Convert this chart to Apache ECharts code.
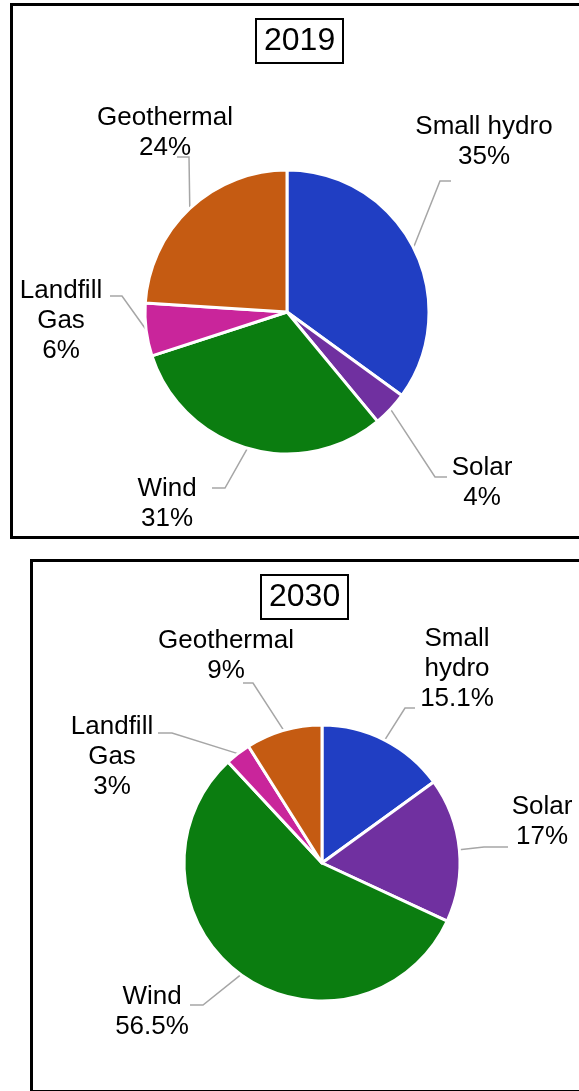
<!DOCTYPE html>
<html>
<head>
<meta charset="utf-8">
<title>Renewable mix 2019 vs 2030</title>
<script src="https://cdn.jsdelivr.net/npm/echarts@6/dist/echarts.min.js"></script>
<style>
    html, body { margin: 0; padding: 0; background: #fff; }
    #chart { width: 579px; height: 1091px; }
</style>
</head>
<body>
<div id="chart"></div>
<script>
// Data
const sources = ['Small hydro', 'Solar', 'Wind', 'Landfill Gas', 'Geothermal'];
const labels2019 = ['Small hydro', 'Solar', 'Wind', 'Landfill\nGas', 'Geothermal'];
const labels2030 = ['Small\nhydro', 'Solar', 'Wind', 'Landfill\nGas', 'Geothermal'];
const values2019 = [35, 4, 31, 6, 24];
const values2030 = [15.1, 17, 56.5, 3, 9];
const years = ['2019', '2030'];

const colors = ['#203EC3', '#7030A0', '#0B7D10', '#C9259B', '#C55B12'];
const FONT = '"Liberation Sans", Arial, sans-serif';

// label placement (text centre, leader elbow, leader end), Excel style
const layout2019 = [
    { at: [484, 142], elbow: [440, 181], end: [451, 181] },
    { at: [482, 483], elbow: [435, 477], end: [447, 477] },
    { at: [167, 504], elbow: [225, 488], end: [212, 488] },
    { at: [61, 321], elbow: [122, 296], end: [110, 296] },
    { at: [165, 133], elbow: [189, 157], end: [177, 157] }
];
const layout2030 = [
    { at: [457, 669], elbow: [405, 708], end: [415, 708] },
    { at: [542, 822], elbow: [484, 847], end: [508, 847] },
    { at: [152, 1012], elbow: [203, 1005], end: [190, 1005] },
    { at: [112, 757], elbow: [172, 733], end: [158, 733] },
    { at: [226, 656], elbow: [253, 683], end: [243, 683] }
];

function buildData(values, labels) {
    return values.map((v, i) => ({
        name: sources[i],
        value: v,
        label: { formatter: labels[i] + '\n' + v + '%' },
        itemStyle: { color: colors[i] }
    }));
}

function makeLayout(spec) {
    return function (params) {
        const s = spec[params.dataIndex];
        const pts = params.labelLinePoints;
        const start = pts ? pts[0] : s.elbow;
        return {
            x: s.at[0],
            y: s.at[1],
            align: 'center',
            verticalAlign: 'middle',
            labelLinePoints: [start, s.elbow, s.end]
        };
    };
}

function pieSeries(values, labels, center, radius, spec) {
    return {
        type: 'pie',
        center: center,
        radius: radius,
        startAngle: 90,
        clockwise: true,
        avoidLabelOverlap: false,
        silent: true,
        itemStyle: { borderColor: '#fff', borderWidth: 3 },
        label: {
            show: true,
            position: 'outside',
            color: '#000',
            fontFamily: FONT,
            fontSize: 26,
            lineHeight: 30,
            align: 'center'
        },
        labelLine: {
            show: true,
            length: 10,
            length2: 10,
            lineStyle: { color: '#A6A6A6', width: 1.5 }
        },
        labelLayout: makeLayout(spec),
        emphasis: { disabled: true },
        data: buildData(values, labels)
    };
}

function titleBox(text, left, top) {
    return {
        text: text,
        left: left,
        top: top,
        padding: [6, 8, 6, 8],
        borderColor: '#000',
        borderWidth: 2,
        textStyle: {
            color: '#000',
            fontFamily: FONT,
            fontSize: 32,
            fontWeight: 'normal'
        }
    };
}

const chart = echarts.init(document.getElementById('chart'));

chart.setOption({
    animation: false,
    backgroundColor: '#fff',
    title: [
        titleBox(years[0], 256, 19),
        titleBox(years[1], 261, 575)
    ],
    graphic: [
        {
            type: 'rect',
            shape: { x: 11.5, y: 4.5, width: 620, height: 533 },
            style: { fill: null, stroke: '#000', lineWidth: 3 },
            silent: true
        },
        {
            type: 'rect',
            shape: { x: 31.5, y: 560.5, width: 620, height: 531 },
            style: { fill: null, stroke: '#000', lineWidth: 3 },
            silent: true
        }
    ],
    series: [
        pieSeries(values2019, labels2019, [287, 312], 142, layout2019),
        pieSeries(values2030, labels2030, [322, 863], 138, layout2030)
    ]
});
</script>
</body>
</html>
